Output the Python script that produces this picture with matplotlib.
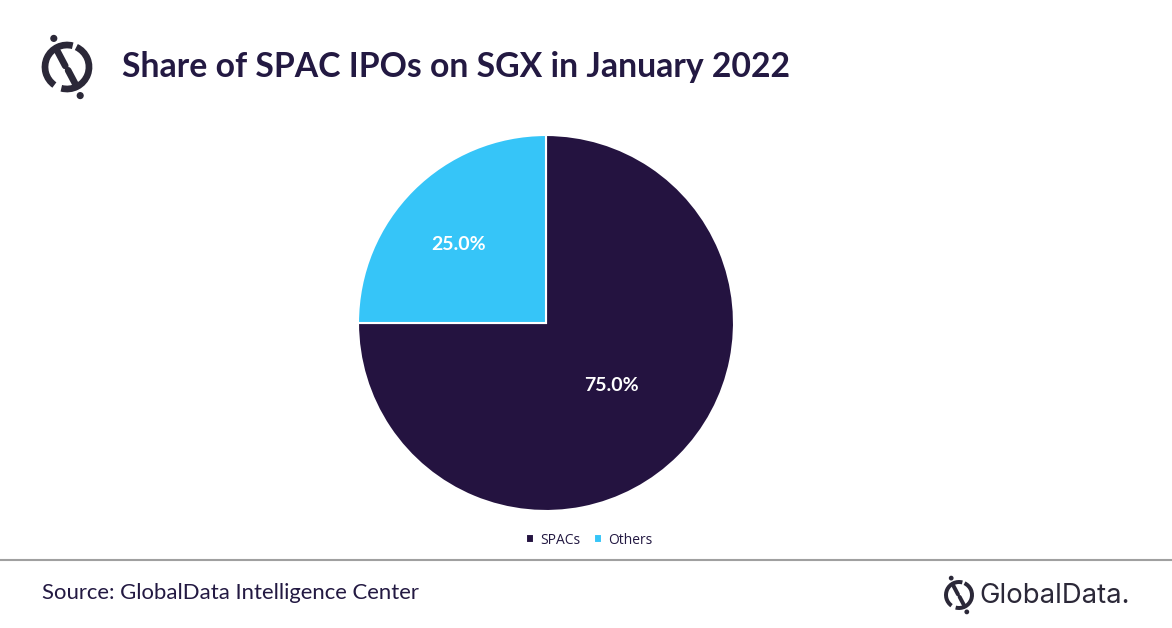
import matplotlib
matplotlib.use('Agg')
import matplotlib.pyplot as plt
from matplotlib.patches import Arc, Circle

labels = ["SPACs", "Others"]
shares = [75.0, 25.0]
colors = ["#241340", "#36C5F8"]

TEXT = "#231942"
W, H = 1172, 628

fig = plt.figure(figsize=(W / 100, H / 100), dpi=100)
fig.patch.set_facecolor("white")

# pie axes: centre (546, 323), radius 188 px
r = 188
cx, cy = 546, 323
ax = fig.add_axes([(cx - r) / W, 1 - (cy + r) / H, 2 * r / W, 2 * r / H])
wedges, _, autotexts = ax.pie(
    shares, colors=colors, startangle=90, counterclock=False,
    autopct="%.1f%%", pctdistance=0.6,
    wedgeprops=dict(edgecolor="white", linewidth=1.5),
    textprops=dict(color="white", fontsize=14, fontweight="bold", family="Lato"),
)
# Excel-like label placement: pull big slice label inward, push small one out
for t, (kx, ky) in zip(autotexts, [(0.82, 0.78), (1.1, 0.98)]):
    x, y = t.get_position()
    t.set_position((x * kx, y * ky))
ax.set_aspect("equal")
ax.set_xlim(-1, 1)
ax.set_ylim(-1, 1)

# legend
leg = fig.legend(wedges, labels, loc="center", bbox_to_anchor=(589 / W, 1 - 540 / H),
                 ncol=2, frameon=False, handlelength=0.6, handleheight=0.6,
                 handletextpad=0.4, columnspacing=1.0,
                 prop=dict(family="Open Sans", size=10))
for t in leg.get_texts():
    t.set_color(TEXT)

# title and source
fig.text(122 / W, 1 - 67 / H, "Share of SPAC IPOs on SGX in January 2022",
         fontsize=24.3, fontweight="bold", color=TEXT, family="Lato", va="center")
fig.text(42 / W, 1 - 593 / H, "Source: GlobalData Intelligence Center",
         fontsize=15.9, color=TEXT, family="Lato", va="center")

# separator line
fig.add_artist(plt.Line2D([0, 1], [1 - 560 / H] * 2, color="#a0a0a0", linewidth=1.5))

# overlay axes in pixel coordinates for logos
ov = fig.add_axes([0, 0, 1, 1])
ov.set_xlim(0, W)
ov.set_ylim(H, 0)
ov.axis("off")


def logo(x, y, s, color):
    ov.add_patch(Arc((x, y), 2 * s, 2 * s, theta1=-65, theta2=105, color=color, lw=s * 0.22))
    ov.add_patch(Arc((x, y), 2 * s, 2 * s, theta1=125, theta2=285, color=color, lw=s * 0.22))
    ov.plot([x - s * 0.45, x - s * 0.08], [y - s * 0.75, y - s * 0.05], color=color,
            lw=s * 0.22, solid_capstyle="round")
    ov.plot([x + s * 0.05, x + s * 0.42], [y + s * 0.15, y + s * 0.85], color=color,
            lw=s * 0.22, solid_capstyle="round")
    ov.add_patch(Circle((x - s * 0.6, y - s * 1.3), s * 0.13, color=color))
    ov.add_patch(Circle((x + s * 0.6, y + s * 1.3), s * 0.13, color=color))


logo(67, 67, 22, "#2b2838")
logo(959, 595, 13, "#2b2838")
ov.text(979, 596, "GlobalData.", fontsize=19.8, color="#2b2838", family="Inter",
        va="center", ha="left")

fig.savefig("out.png", dpi=100)
